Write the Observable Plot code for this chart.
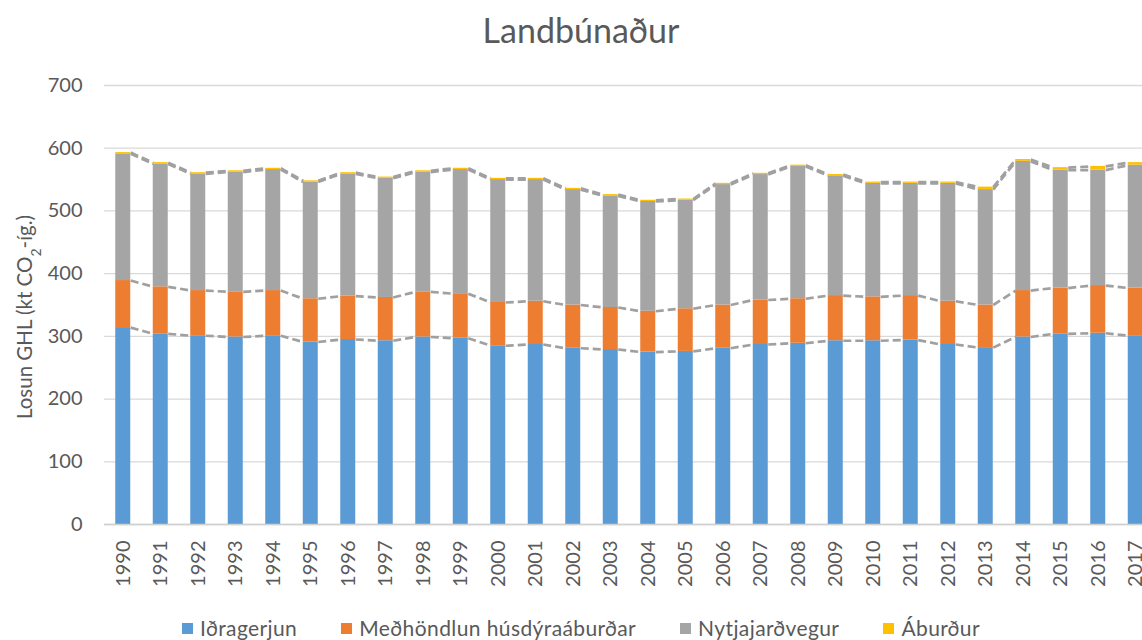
<!DOCTYPE html>
<html><head><meta charset="utf-8">
<script src="https://cdn.jsdelivr.net/npm/d3@7"></script>
<script src="https://cdn.jsdelivr.net/npm/@observablehq/plot@0.6"></script>
<style>
html,body{margin:0;padding:0;background:#fff;overflow:hidden;}
#chart{position:relative;width:1162px;height:640px;font-family:Lato,sans-serif;color:#595959;}
#title{position:absolute;left:0;top:0;width:1162px;height:60px;line-height:60px;text-align:center;font-size:34px;}
#plot{position:absolute;left:0;top:60px;}
#legend{position:absolute;left:0;top:616px;width:1162px;height:24px;line-height:24px;display:flex;justify-content:center;font-size:21px;letter-spacing:0.4px;}
.item{display:flex;align-items:center;margin:0 22px;white-space:nowrap;}
.sw{width:11px;height:11px;margin-right:7px;flex:none;}
</style></head><body>
<div id="chart"><div id="title">Landbúnaður</div><div id="plot"></div><div id="legend"></div></div>
<script>
const years = [1990,1991,1992,1993,1994,1995,1996,1997,1998,1999,2000,2001,2002,2003,2004,2005,2006,2007,2008,2009,2010,2011,2012,2013,2014,2015,2016,2017];
const seriesNames = ["Iðragerjun","Meðhöndlun húsdýraáburðar","Nytjajarðvegur","Áburður"];
const colors = ["#5b9bd5","#ed7d31","#a5a5a5","#ffc000"];
const idragerjun = [314,304,301,299,301,291,295,293,299,297,285,287,281,279,275,276,281,287,289,293,293,294,287,282,299,304,305,301];
const medhondlun = [75,75,72,72,72,69,69,69,72,71,69,69,69,67,65,68,69,71,71,72,70,71,69,68,74,73,76,76];
const nytjajardvegur = [202,196,186,191,193,186,195,190,191,198,196,194,184,178,175,173,192,200,211,191,181,179,188,184,206,188,184,196];
const aburdur = [2,2,2,2,2,2,2,2,2,2,2,2,2,2,2,2,2,2,2,2,2,2,2,4,3,4,6,4];
const yTicks = [0,100,200,300,400,500,600,700];

const values = [idragerjun, medhondlun, nytjajardvegur, aburdur];
const halfBar = 0.2;

const data = [];
seriesNames.forEach((s, k) => years.forEach((yr, i) => data.push({year: yr, series: s, value: values[k][i]})));

// Excel-style series lines joining the top of each segment between neighbouring bars
const links = [];
const cum = years.map(() => 0);
values.forEach((vals) => {
  const tops = vals.map((v, i) => (cum[i] += v));
  for (let i = 0; i < years.length - 1; i++) {
    links.push({x1: years[i] + halfBar, x2: years[i + 1] - halfBar, y1: tops[i], y2: tops[i + 1]});
  }
});

const chart = Plot.plot({
  width: 1162, height: 545,
  marginLeft: 104, marginRight: 8, marginTop: 25, marginBottom: 81,
  style: {fontFamily: "Lato, sans-serif", color: "#595959", background: "white", overflow: "visible"},
  x: {type: "linear", domain: [years[0] - 0.5, years[years.length - 1] + 0.5]},
  y: {domain: [0, 700]},
  color: {domain: seriesNames, range: colors},
  marks: [
    Plot.gridY(yTicks, {stroke: "#d9d9d9", strokeOpacity: 1, strokeWidth: 1.3}),
    Plot.axisY(yTicks, {tickSize: 0, tickPadding: 22, fontSize: 20, label: null}),
    Plot.axisX(years, {tickSize: 0, tickPadding: 16, tickRotate: -90, fontSize: 20, tickFormat: d => String(d), label: null}),
    Plot.link(links, {x1: "x1", x2: "x2", y1: "y1", y2: "y2", stroke: "#a0a0a0", strokeWidth: 2.7, strokeDasharray: "8,4"}),
    Plot.rectY(data, {x1: d => d.year - halfBar, x2: d => d.year + halfBar, y: "value", fill: "series", order: null}),
    Plot.ruleY([0], {stroke: "#d0d0d0", strokeWidth: 1.3})
  ]
});

const svg = d3.select(chart);
const t = svg.append("text")
  .attr("transform", "translate(25,257) rotate(-90)")
  .attr("text-anchor", "middle")
  .attr("dy", "0.35em")
  .attr("fill", "#595959")
  .style("font-size", "20.5px");
t.append("tspan").text("Losun GHL (kt CO");
t.append("tspan").attr("font-size", 14).attr("baseline-shift", "sub").text("2");
t.append("tspan").text("-íg.)");

document.getElementById("plot").appendChild(chart);

const legend = d3.select("#legend");
seriesNames.forEach((s, k) => {
  const it = legend.append("div").attr("class", "item");
  it.append("div").attr("class", "sw").style("background", colors[k]);
  it.append("span").text(s);
});
</script>
</body></html>
